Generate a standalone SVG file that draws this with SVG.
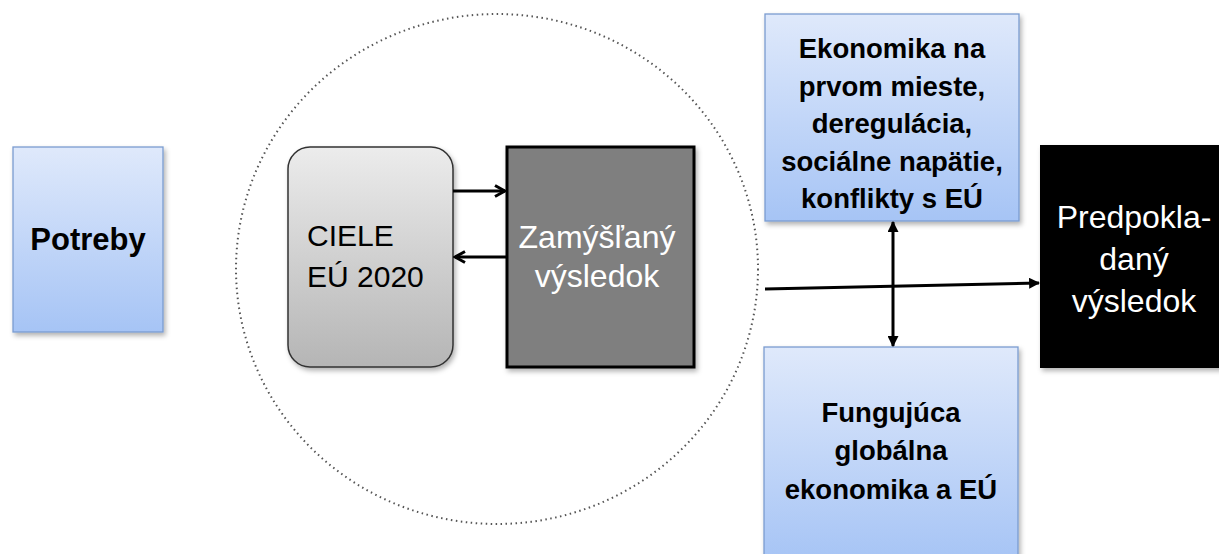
<svg xmlns="http://www.w3.org/2000/svg" width="1219" height="554" viewBox="0 0 1219 554">
<style>
.t{font-family:"Liberation Sans",Arial,sans-serif}
.b{font-weight:bold;fill:#000}
.blue{fill:url(#gb);stroke:#7a9cd0;stroke-width:1.3}
.ln{stroke:#000;stroke-width:3;fill:none}
</style>
<defs>
<linearGradient id="gb" x1="0" y1="0" x2="0" y2="1"><stop offset="0" stop-color="#dfe9fb"/><stop offset="1" stop-color="#a6c4f5"/></linearGradient>
<linearGradient id="gg" x1="0" y1="0" x2="0" y2="1"><stop offset="0" stop-color="#ececec"/><stop offset="1" stop-color="#b5b5b5"/></linearGradient>
<filter id="sh" x="-10%" y="-10%" width="130%" height="130%"><feDropShadow dx="2" dy="3" stdDeviation="2.5" flood-color="#000" flood-opacity="0.3"/></filter>
<marker id="open" viewBox="0 0 14 14" refX="12" refY="7" markerWidth="14" markerHeight="14" markerUnits="userSpaceOnUse" orient="auto"><path d="M2,1.5 L12,7 L2,12.5" fill="none" stroke="#000" stroke-width="3"/></marker>
<marker id="tri" viewBox="0 0 10 10" refX="9" refY="5" markerWidth="11" markerHeight="11" markerUnits="userSpaceOnUse" orient="auto-start-reverse"><path d="M0,0 L10,5 L0,10 z" fill="#000"/></marker>
</defs>
<g id="circle"><ellipse cx="497" cy="269" rx="261" ry="255" fill="none" stroke="#555" stroke-width="2" stroke-dasharray="1.5 3.5"/></g>
<g id="potreby"><rect x="13" y="147" width="150" height="185" class="blue" filter="url(#sh)"/><text x="88" y="250" text-anchor="middle" class="t b" font-size="31">Potreby</text></g>
<g id="ciele"><rect x="288" y="147" width="165" height="220" rx="22" fill="url(#gg)" stroke="#333" stroke-width="1.5" filter="url(#sh)"/><text class="t" font-size="30" fill="#000"><tspan x="307" y="246">CIELE</tspan><tspan x="307" y="287">EÚ 2020</tspan></text></g>
<g id="zamyslany"><rect x="507" y="147" width="187" height="220" fill="#7f7f7f" stroke="#000" stroke-width="3" filter="url(#sh)"/><text text-anchor="middle" class="t" font-size="32" fill="#fff"><tspan x="597" y="248">Zamýšľaný</tspan><tspan x="597" y="287">výsledok</tspan></text></g>
<g id="ekonomika"><rect x="765" y="14" width="254" height="207" class="blue" filter="url(#sh)"/><text text-anchor="middle" class="t b" font-size="27.5"><tspan x="892" y="58">Ekonomika na</tspan><tspan x="892" y="96">prvom mieste,</tspan><tspan x="892" y="133">deregulácia,</tspan><tspan x="892" y="171">sociálne napätie,</tspan><tspan x="892" y="208">konflikty s EÚ</tspan></text></g>
<g id="fungujuca"><rect x="764" y="347" width="254" height="215" class="blue" filter="url(#sh)"/><text text-anchor="middle" class="t b" font-size="27.5"><tspan x="891" y="422">Fungujúca</tspan><tspan x="891" y="460">globálna</tspan><tspan x="891" y="499">ekonomika a EÚ</tspan></text></g>
<g id="predpokladany"><rect x="1040" y="145" width="185" height="223" fill="#000" filter="url(#sh)"/><text text-anchor="middle" class="t" font-size="32" fill="#fff"><tspan x="1134" y="228">Predpokla-</tspan><tspan x="1134" y="270">daný</tspan><tspan x="1134" y="312">výsledok</tspan></text></g>
<g id="connectors">
<line x1="453" y1="191" x2="505" y2="191" class="ln" marker-end="url(#open)"/>
<line x1="507" y1="257" x2="455" y2="257" class="ln" marker-end="url(#open)"/>
<line x1="765" y1="289" x2="1039" y2="283" class="ln" stroke-width="2.5" marker-end="url(#tri)"/>
<line x1="893" y1="222" x2="893" y2="346" class="ln" stroke-width="2.5" marker-start="url(#tri)" marker-end="url(#tri)"/>
</g>
</svg>
